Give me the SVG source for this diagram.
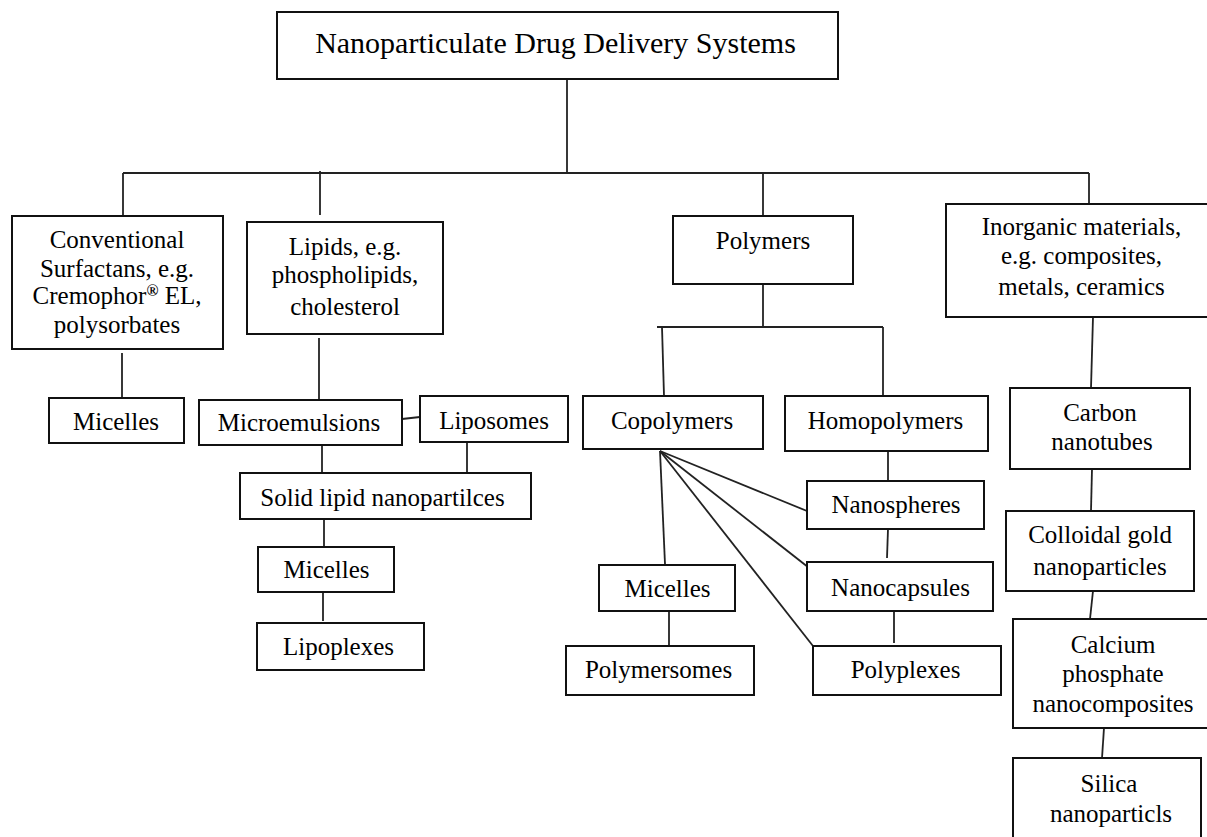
<svg xmlns="http://www.w3.org/2000/svg" width="1207" height="837" viewBox="0 0 1207 837">
<style>
  .box { fill: #fff; stroke: #111; stroke-width: 2; }
  .t { font-family: "Liberation Serif", "Times New Roman", serif; font-size: 25px; fill: #000; text-anchor: middle; }
  .title { font-size: 30px; }
  .c line { stroke: #222; stroke-width: 1.8; }
</style>
<rect width="1207" height="837" fill="#fff"/>
<g id="connectors" class="c">
  <line x1="567" y1="79" x2="567" y2="173"/>
  <line x1="123" y1="173" x2="1089" y2="173"/>
  <line x1="123" y1="173" x2="123" y2="216"/>
  <line x1="320" y1="171" x2="320" y2="215"/>
  <line x1="763" y1="173" x2="763" y2="216"/>
  <line x1="1089" y1="173" x2="1089" y2="204"/>
  <line x1="122" y1="353" x2="122" y2="398"/>
  <line x1="319" y1="338" x2="319" y2="400"/>
  <line x1="402" y1="419" x2="420" y2="417"/>
  <line x1="322" y1="445" x2="322" y2="473"/>
  <line x1="467" y1="442" x2="467" y2="473"/>
  <line x1="324" y1="519" x2="324" y2="547"/>
  <line x1="323" y1="592" x2="323" y2="621"/>
  <line x1="763" y1="284" x2="763" y2="327"/>
  <line x1="657" y1="327" x2="883" y2="327"/>
  <line x1="662" y1="327" x2="664" y2="396"/>
  <line x1="883" y1="327" x2="883" y2="398"/>
  <line x1="660" y1="451" x2="665" y2="564"/>
  <line x1="660" y1="451" x2="807" y2="511"/>
  <line x1="660" y1="451" x2="813" y2="571"/>
  <line x1="660" y1="451" x2="813" y2="646"/>
  <line x1="669" y1="611" x2="669" y2="646"/>
  <line x1="888" y1="451" x2="888" y2="481"/>
  <line x1="888" y1="529" x2="887" y2="558"/>
  <line x1="894" y1="611" x2="894" y2="643"/>
  <line x1="1093" y1="317" x2="1091" y2="388"/>
  <line x1="1092" y1="469" x2="1091" y2="511"/>
  <line x1="1093" y1="591" x2="1090" y2="619"/>
  <line x1="1104" y1="728" x2="1102" y2="758"/>
</g>
<g id="root">
  <rect class="box" x="277" y="12" width="561" height="67"/>
  <text class="t title" x="555.5" y="53">Nanoparticulate Drug Delivery Systems</text>
</g>
<g id="conventional">
  <rect class="box" x="12" y="216" width="211" height="133"/>
  <text class="t" x="117" y="248">Conventional</text>
  <text class="t" x="117" y="277">Surfactans, e.g.</text>
  <text class="t" x="117" y="304">Cremophor<tspan font-size="16" font-weight="bold" dy="-8">®</tspan><tspan dy="8"> EL,</tspan></text>
  <text class="t" x="117" y="333">polysorbates</text>
</g>
<g id="lipids">
  <rect class="box" x="247" y="222" width="196" height="112"/>
  <text class="t" x="345" y="255">Lipids, e.g.</text>
  <text class="t" x="345" y="283">phospholipids,</text>
  <text class="t" x="345" y="315">cholesterol</text>
</g>
<g id="polymers">
  <rect class="box" x="673" y="216" width="180" height="68"/>
  <text class="t" x="763" y="249">Polymers</text>
</g>
<g id="inorganic">
  <rect class="box" x="946" y="204" width="270" height="113"/>
  <text class="t" x="1081.5" y="235">Inorganic materials,</text>
  <text class="t" x="1081.5" y="264">e.g. composites,</text>
  <text class="t" x="1081.5" y="295">metals, ceramics</text>
</g>
<g id="micelles1">
  <rect class="box" x="49" y="398" width="135" height="45"/>
  <text class="t" x="116" y="430">Micelles</text>
</g>
<g id="microemulsions">
  <rect class="box" x="199" y="400" width="203" height="45"/>
  <text class="t" x="299" y="431">Microemulsions</text>
</g>
<g id="liposomes">
  <rect class="box" x="420" y="396" width="148" height="46"/>
  <text class="t" x="494" y="429">Liposomes</text>
</g>
<g id="solid-lipid">
  <rect class="box" x="240" y="473" width="291" height="46"/>
  <text class="t" x="382.5" y="506">Solid lipid nanopartilces</text>
</g>
<g id="micelles2">
  <rect class="box" x="258" y="547" width="136" height="45"/>
  <text class="t" x="326.5" y="578">Micelles</text>
</g>
<g id="lipoplexes">
  <rect class="box" x="257" y="623" width="167" height="47"/>
  <text class="t" x="338.5" y="655">Lipoplexes</text>
</g>
<g id="copolymers">
  <rect class="box" x="583" y="396" width="180" height="53"/>
  <text class="t" x="672" y="429">Copolymers</text>
</g>
<g id="homopolymers">
  <rect class="box" x="785" y="396" width="203" height="55"/>
  <text class="t" x="885.5" y="429">Homopolymers</text>
</g>
<g id="nanospheres">
  <rect class="box" x="807" y="481" width="177" height="48"/>
  <text class="t" x="896" y="513">Nanospheres</text>
</g>
<g id="nanocapsules">
  <rect class="box" x="807" y="562" width="186" height="49"/>
  <text class="t" x="900.5" y="596">Nanocapsules</text>
</g>
<g id="polyplexes">
  <rect class="box" x="813" y="646" width="188" height="49"/>
  <text class="t" x="905.5" y="678">Polyplexes</text>
</g>
<g id="micelles3">
  <rect class="box" x="599" y="565" width="136" height="46"/>
  <text class="t" x="667.5" y="597">Micelles</text>
</g>
<g id="polymersomes">
  <rect class="box" x="566" y="646" width="188" height="49"/>
  <text class="t" x="658.5" y="678">Polymersomes</text>
</g>
<g id="carbon">
  <rect class="box" x="1010" y="388" width="180" height="81"/>
  <text class="t" x="1100" y="421">Carbon</text>
  <text class="t" x="1102" y="450">nanotubes</text>
</g>
<g id="colloidal">
  <rect class="box" x="1006" y="511" width="188" height="80"/>
  <text class="t" x="1100" y="543">Colloidal gold</text>
  <text class="t" x="1100" y="575">nanoparticles</text>
</g>
<g id="calcium">
  <rect class="box" x="1013" y="619" width="203" height="109"/>
  <text class="t" x="1113" y="653">Calcium</text>
  <text class="t" x="1113" y="682">phosphate</text>
  <text class="t" x="1113" y="712">nanocomposites</text>
</g>
<g id="silica">
  <rect class="box" x="1013" y="758" width="188" height="90"/>
  <text class="t" x="1109" y="792">Silica</text>
  <text class="t" x="1111" y="822">nanoparticls</text>
</g>
</svg>
